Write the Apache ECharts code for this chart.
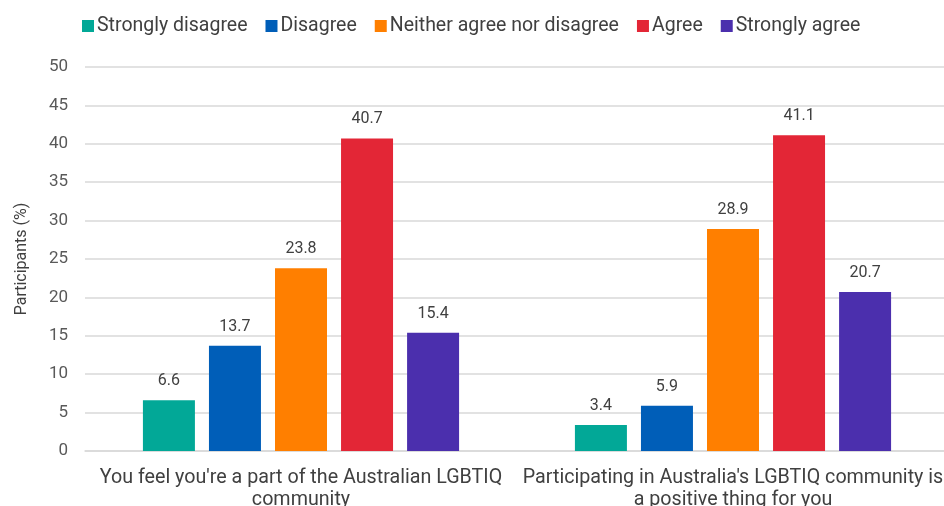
<!DOCTYPE html>
<html>
<head>
<meta charset="utf-8">
<script src="https://cdn.jsdelivr.net/npm/echarts@6/dist/echarts.min.js"></script>
<style>
  html, body { margin: 0; padding: 0; background: #fff; }
  #chart { width: 944px; height: 506px; }
</style>
</head>
<body>
<div id="chart"></div>
<script>
// Survey statements (x-axis categories)
const categories = [
  "You feel you're a part of the Australian LGBTIQ\ncommunity",
  "Participating in Australia's LGBTIQ community is\na positive thing for you"
];

// Response levels and their percentages per statement
const stronglyDisagree = [6.6, 3.4];
const disagree = [13.7, 5.9];
const neither = [23.8, 28.9];
const agree = [40.7, 41.1];
const stronglyAgree = [15.4, 20.7];

const seriesNames = ['Strongly disagree', 'Disagree', 'Neither agree nor disagree', 'Agree', 'Strongly agree'];
const seriesValues = [stronglyDisagree, disagree, neither, agree, stronglyAgree];
const colors = ['#02A897', '#005EB8', '#FF7F00', '#E32636', '#4B2FAD'];

const yTicks = { min: 0, max: 50, interval: 5 };

const chart = echarts.init(document.getElementById('chart'));
const font = 'Roboto, "Noto Sans", sans-serif';

chart.setOption({
  animation: false,
  color: colors,
  textStyle: { fontFamily: font },
  legend: {
    top: 11,
    left: 77,
    itemWidth: 12,
    itemHeight: 12,
    itemGap: 18,
    icon: 'rect',
    textStyle: { fontSize: 19.5, color: '#404040', padding: [0, 0, 0, -2] },
    data: seriesNames
  },
  // the category labels are allowed to run past the bottom edge
  grid: { left: 85, right: -5, top: 67, bottom: 55, containLabel: false, outerBoundsMode: 'none' },
  xAxis: {
    type: 'category',
    data: categories,
    axisTick: { show: false },
    axisLine: { lineStyle: { color: '#d9d9d9', width: 1.5 } },
    axisLabel: { color: '#404040', fontSize: 19.7, lineHeight: 22, margin: 16, interval: 0 }
  },
  yAxis: {
    type: 'value',
    min: yTicks.min,
    max: yTicks.max,
    interval: yTicks.interval,
    name: 'Participants (%)',
    nameLocation: 'middle',
    nameGap: 55,
    nameTextStyle: { fontSize: 16, color: '#404040' },
    axisLabel: { color: '#595959', fontSize: 17, margin: 17 },
    splitLine: { lineStyle: { color: '#d9d9d9', width: 1.5 } },
    axisLine: { show: false },
    axisTick: { show: false }
  },
  series: seriesNames.map((name, i) => ({
    name,
    type: 'bar',
    data: seriesValues[i],
    barWidth: 52,
    barGap: '27%',
    label: {
      show: true,
      position: 'top',
      distance: 11,
      fontSize: 16,
      color: '#404040',
      formatter: p => p.value.toFixed(1)
    }
  }))
});
</script>
</body>
</html>
